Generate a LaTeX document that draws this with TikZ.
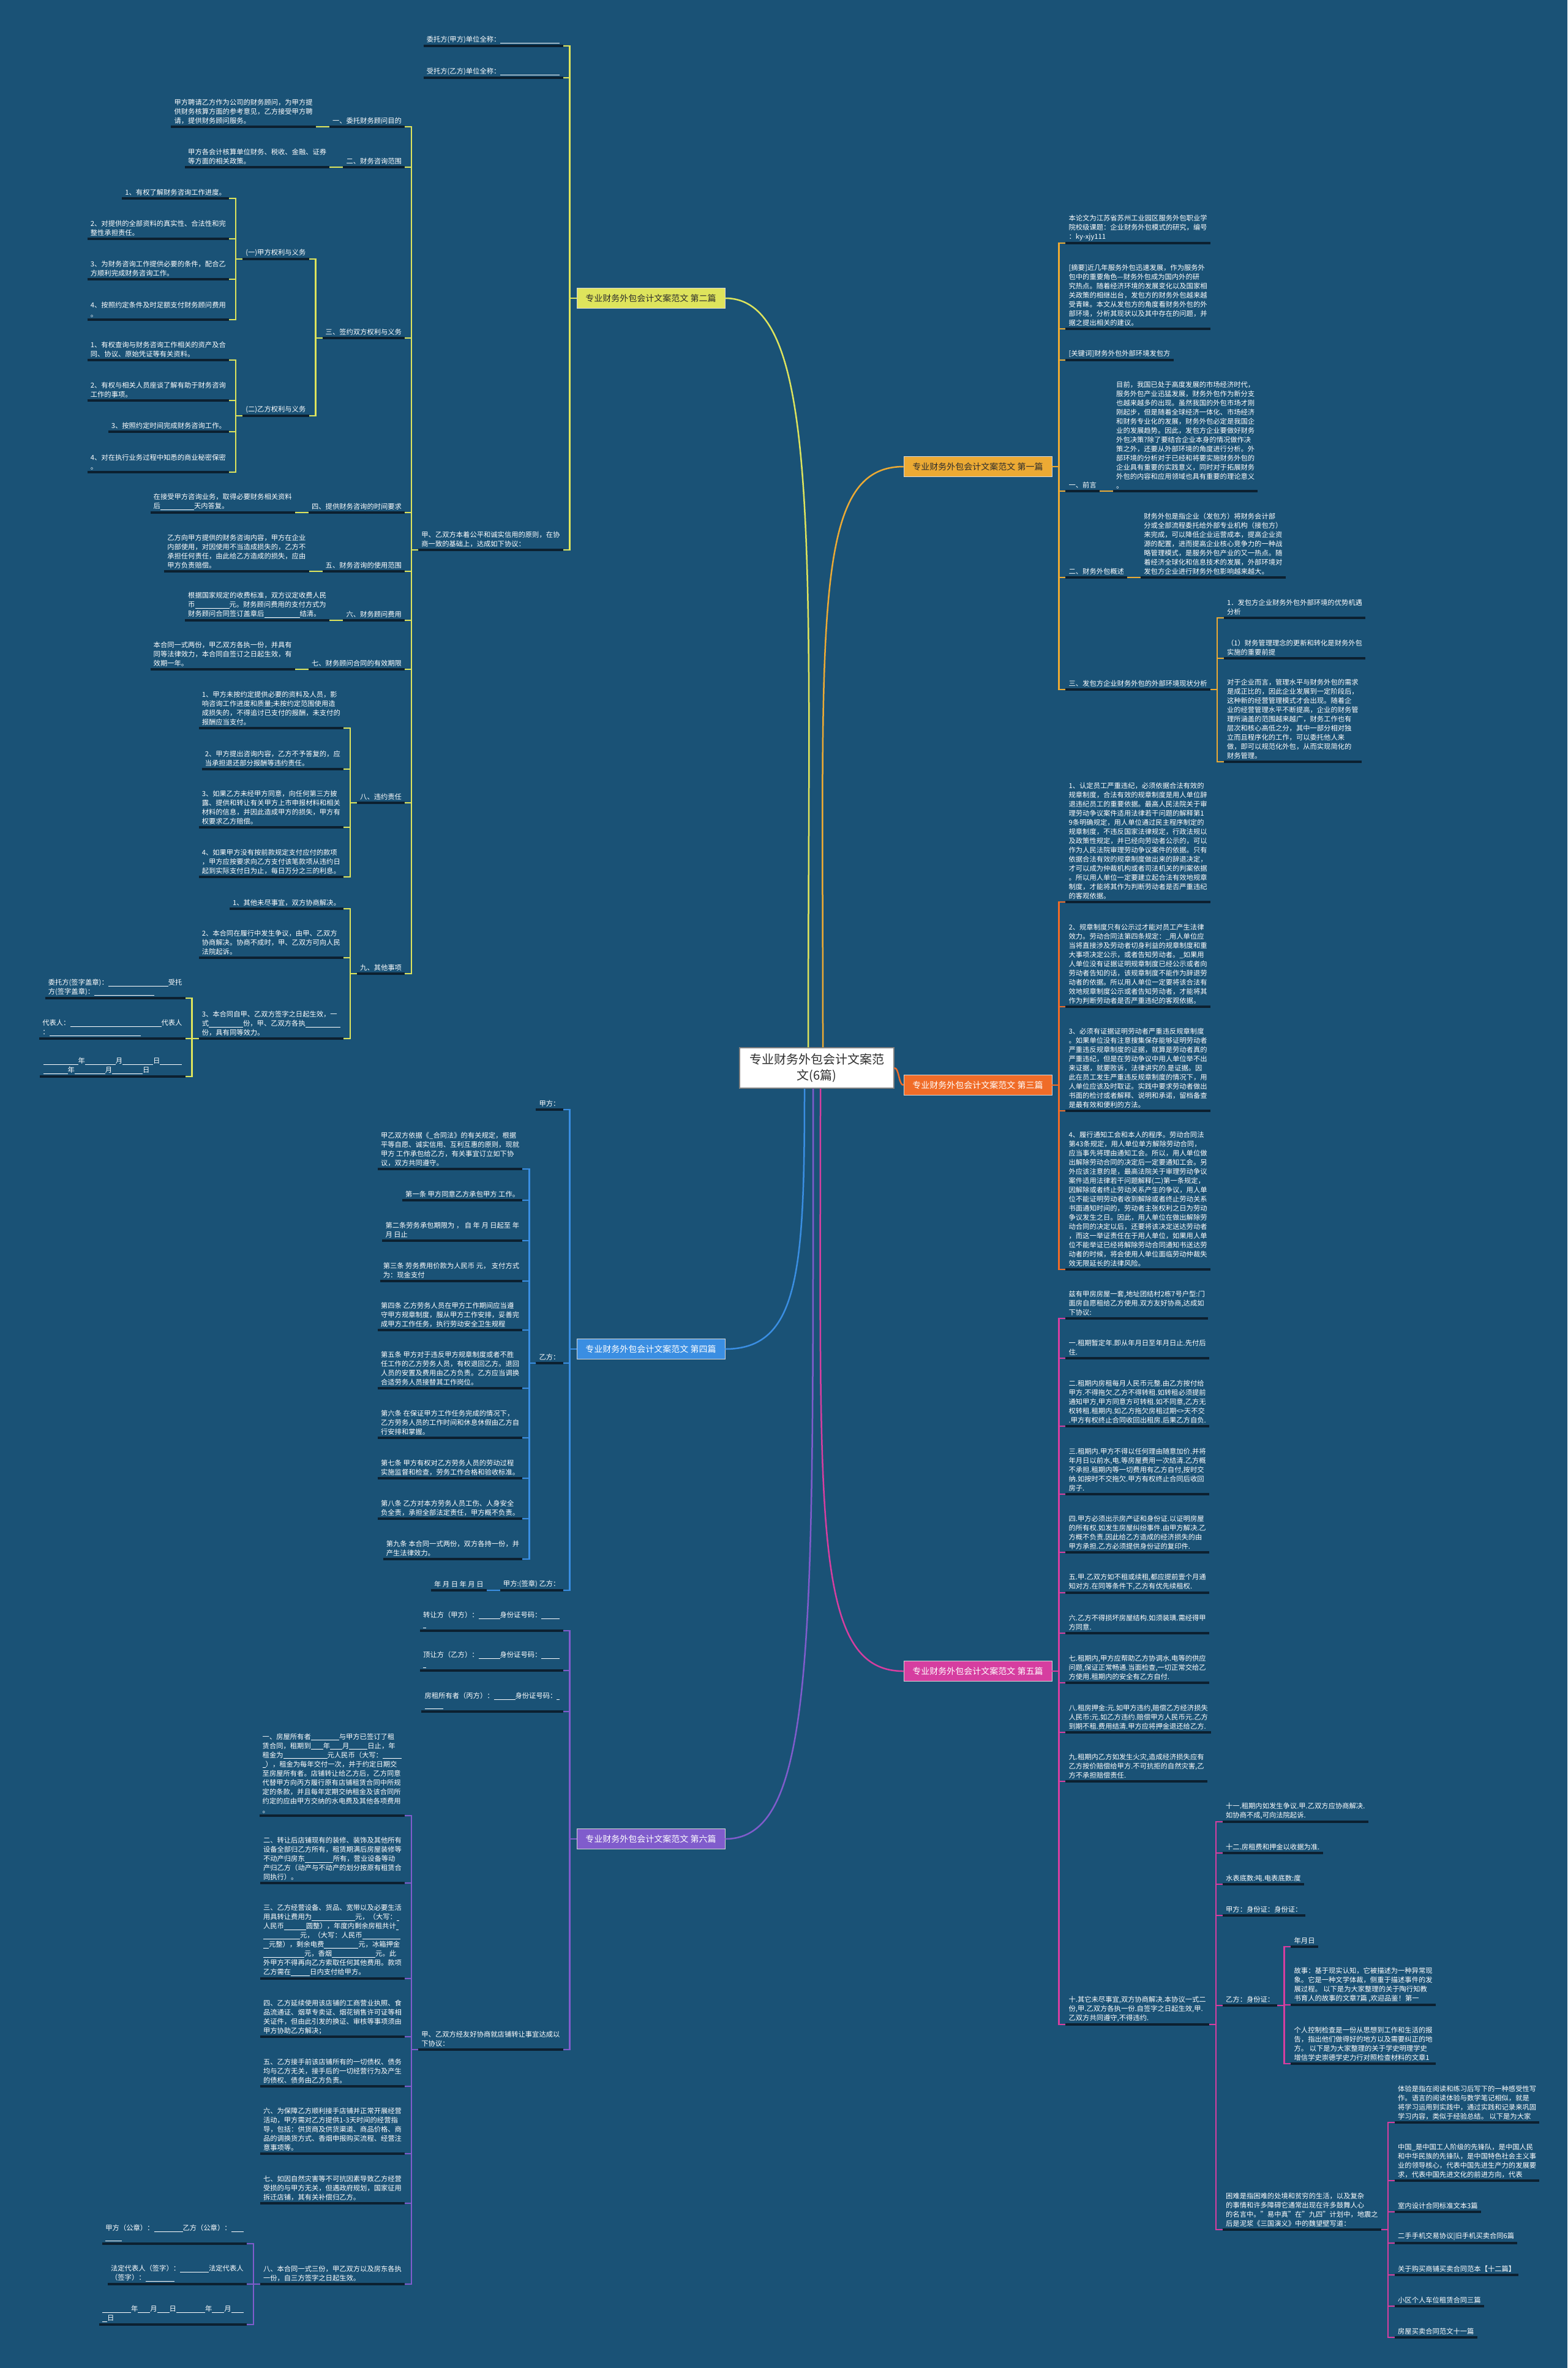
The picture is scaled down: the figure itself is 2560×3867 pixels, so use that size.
\documentclass[tikz,border=0pt]{standalone}
\usepackage{fontspec}
\setmainfont{Noto Sans CJK SC}
\newcommand{\ublank}[1]{\rule[-2pt]{#1pt}{0.7pt}}
\definecolor{bgblue}{RGB}{26,82,118}
\definecolor{ulc}{RGB}{12,32,48}
\definecolor{ink}{RGB}{45,45,45}
\definecolor{cyel}{RGB}{222,228,92}
\definecolor{corg}{RGB}{236,170,52}
\definecolor{cred}{RGB}{240,108,40}
\definecolor{cblu}{RGB}{58,142,226}
\definecolor{cmag}{RGB}{214,62,160}
\definecolor{cpur}{RGB}{128,92,204}

\begin{document}
\begin{tikzpicture}[x=1pt, y=-1pt,
  leaf/.style={text=white, align=left, inner xsep=5pt, inner ysep=4pt, font=\fontsize{11.3}{15}\selectfont,
    append after command={(\tikzlastnode.south west) edge[uline] (\tikzlastnode.south east)}},
  leafL/.style={leaf, anchor=south east},
  leafR/.style={leaf, anchor=south west},
  uline/.style={draw=ulc, line width=4pt},
  topic/.style={draw=white!85!black, line width=0.8pt, minimum width=242pt, minimum height=33pt, inner sep=2pt, font=\fontsize{14}{16}\selectfont},
  central/.style={draw=gray, line width=1.5pt, fill=white, text=ink, align=center, minimum width=252pt, minimum height=66pt, font=\fontsize{20}{26}\selectfont},
  ylink/.style={draw=cyel, line width=2.5pt},
  olink/.style={draw=corg, line width=2.5pt},
  rlink/.style={draw=cred, line width=2.5pt},
  blink/.style={draw=cblu, line width=2.5pt},
  mlink/.style={draw=cmag, line width=2.5pt},
  plink/.style={draw=cpur, line width=2.5pt}]

\path[use as bounding box, fill=bgblue] (0,0) rectangle (2560,3867);

% centre and the six topics
\node[central] (root) at (1334,1744) {专业财务外包会计文案范\\文(6篇)};
\node[topic, fill=cyel, text=ink] (b2) at (1063,487) {专业财务外包会计文案范文 第二篇};
\node[topic, fill=corg, text=ink] (b1) at (1597,762) {专业财务外包会计文案范文 第一篇};
\node[topic, fill=cred, text=white] (b3) at (1597,1772) {专业财务外包会计文案范文 第三篇};
\node[topic, fill=cblu, text=white] (b4) at (1063,2203) {专业财务外包会计文案范文 第四篇};
\node[topic, fill=cmag, text=white] (b5) at (1597,2729) {专业财务外包会计文案范文 第五篇};
\node[topic, fill=cpur, text=white] (b6) at (1063,3003) {专业财务外包会计文案范文 第六篇};

\draw[ylink] ([xshift=-14pt]root.north) .. controls +(0,-800) and +(160,0) .. (b2.east);
\draw[olink] ([xshift=10pt]root.north) .. controls +(0,-700) and +(-150,0) .. (b1.west);
\draw[rlink] (root.east) .. controls +(8,0) and +(-8,0) .. (b3.west);
\draw[blink] ([xshift=-20pt]root.south) .. controls +(0,300) and +(120,0) .. (b4.east);
\draw[mlink] ([xshift=6pt]root.south) .. controls +(0,700) and +(-150,0) .. (b5.west);
\draw[plink] ([xshift=-6pt]root.south) .. controls +(0,900) and +(150,0) .. (b6.east);

% ---- 第二篇
\node[leafL] (client) at ([xshift=-22pt]b2.west |- 0,75) {委托方(甲方)单位全称：\ublank{97}};
\node[leafL] (agent) at ([xshift=-22pt]b2.west |- 0,127) {受托方(乙方)单位全称：\ublank{97}};
\node[leafL] (agree) at ([xshift=-22pt]b2.west |- 0,898) {甲、乙双方本着公平和诚实信用的原则，在协\\商一致的基础上，达成如下协议：};
\foreach \ch in {client,agent,agree} \draw[ylink] (b2.west) -- ++(-11,0) |- (\ch.south east);

\node[leafL] (aim) at ([xshift=-22pt]agree.south west |- 0,207) {一、委托财务顾问目的};
\node[leafL] (scope) at ([xshift=-22pt]agree.south west |- 0,273) {二、财务咨询范围};
\node[leafL] (rights) at ([xshift=-22pt]agree.south west |- 0,552) {三、签约双方权利与义务};
\node[leafL] (timing) at ([xshift=-22pt]agree.south west |- 0,837) {四、提供财务咨询的时间要求};
\node[leafL] (usage) at ([xshift=-22pt]agree.south west |- 0,933) {五、财务咨询的使用范围};
\node[leafL] (fee) at ([xshift=-22pt]agree.south west |- 0,1013) {六、财务顾问费用};
\node[leafL] (term) at ([xshift=-22pt]agree.south west |- 0,1093) {七、财务顾问合同的有效期限};
\node[leafL] (breach) at ([xshift=-22pt]agree.south west |- 0,1311) {八、违约责任};
\node[leafL] (misc) at ([xshift=-22pt]agree.south west |- 0,1590) {九、其他事项};
\foreach \ch in {aim,scope,rights,timing,usage,fee,term,breach,misc} \draw[ylink] (agree.south west) -- ++(-11,0) |- (\ch.south east);

\node[leafL] (aimtxt) at ([xshift=-22pt]aim.south west |- 0,207) {甲方聘请乙方作为公司的财务顾问，为甲方提\\供财务核算方面的参考意见，乙方接受甲方聘\\请，提供财务顾问服务。};
\node[leafL] (scopetxt) at ([xshift=-22pt]scope.south west |- 0,273) {甲方各会计核算单位财务、税收、金融、证券\\等方面的相关政策。};
\node[leafL] (timingtxt) at ([xshift=-22pt]timing.south west |- 0,837) {在接受甲方咨询业务，取得必要财务相关资料\\后\ublank{55}天内答复。};
\node[leafL] (usagetxt) at ([xshift=-22pt]usage.south west |- 0,933) {乙方向甲方提供的财务咨询内容，甲方在企业\\内部使用，对因使用不当造成损失的，乙方不\\承担任何责任，由此给乙方造成的损失，应由\\甲方负责赔偿。};
\node[leafL] (feetxt) at ([xshift=-22pt]fee.south west |- 0,1013) {根据国家规定的收费标准，双方议定收费人民\\币\ublank{56}元。财务顾问费用的支付方式为\\财务顾问合同签订盖章后\ublank{58}结清。};
\node[leafL] (termtxt) at ([xshift=-22pt]term.south west |- 0,1093) {本合同一式两份，甲乙双方各执一份，并具有\\同等法律效力，本合同自签订之日起生效，有\\效期一年。};
\foreach \pa/\ch in {aim/aimtxt,scope/scopetxt,timing/timingtxt,usage/usagetxt,fee/feetxt,term/termtxt} \draw[ylink] (\pa.south west) -- (\ch.south east);

\node[leafL] (rightsA) at ([xshift=-22pt]rights.south west |- 0,423) {(一)甲方权利与义务};
\node[leafL] (rightsB) at ([xshift=-22pt]rights.south west |- 0,679) {(二)乙方权利与义务};
\foreach \ch in {rightsA,rightsB} \draw[ylink] (rights.south west) -- ++(-11,0) |- (\ch.south east);
\node[leafL] (ra1) at ([xshift=-22pt]rightsA.south west |- 0,324) {1、有权了解财务咨询工作进度。};
\node[leafL] (ra2) at ([xshift=-22pt]rightsA.south west |- 0,390) {2、对提供的全部资料的真实性、合法性和完\\整性承担责任。};
\node[leafL] (ra3) at ([xshift=-22pt]rightsA.south west |- 0,456) {3、为财务咨询工作提供必要的条件，配合乙\\方顺利完成财务咨询工作。};
\node[leafL] (ra4) at ([xshift=-22pt]rightsA.south west |- 0,522) {4、按照约定条件及时足额支付财务顾问费用\\。};
\foreach \ch in {ra1,ra2,ra3,ra4} \draw[ylink] (rightsA.south west) -- ++(-11,0) |- (\ch.south east);
\node[leafL] (rb1) at ([xshift=-22pt]rightsB.south west |- 0,588) {1、有权查询与财务咨询工作相关的资产及合\\同、协议、原始凭证等有关资料。};
\node[leafL] (rb2) at ([xshift=-22pt]rightsB.south west |- 0,654) {2、有权与相关人员座谈了解有助于财务咨询\\工作的事项。};
\node[leafL] (rb3) at ([xshift=-22pt]rightsB.south west |- 0,705) {3、按照约定时间完成财务咨询工作。};
\node[leafL] (rb4) at ([xshift=-22pt]rightsB.south west |- 0,771) {4、对在执行业务过程中知悉的商业秘密保密\\。};
\foreach \ch in {rb1,rb2,rb3,rb4} \draw[ylink] (rightsB.south west) -- ++(-11,0) |- (\ch.south east);

\node[leafL] (br1) at ([xshift=-22pt]breach.south west |- 0,1189) {1、甲方未按约定提供必要的资料及人员，影\\响咨询工作进度和质量;未按约定范围使用造\\成损失的，不得追讨已支付的报酬，未支付的\\报酬应当支付。};
\node[leafL] (br2) at ([xshift=-22pt]breach.south west |- 0,1256) {2、甲方提出咨询内容，乙方不予答复的，应\\当承担退还部分报酬等违约责任。};
\node[leafL] (br3) at ([xshift=-22pt]breach.south west |- 0,1351) {3、如果乙方未经甲方同意，向任何第三方披\\露、提供和转让有关甲方上市申报材料和相关\\材料的信息，并因此造成甲方的损失，甲方有\\权要求乙方赔偿。};
\node[leafL] (br4) at ([xshift=-22pt]breach.south west |- 0,1432) {4、如果甲方没有按前款规定支付应付的款项\\，甲方应按要求向乙方支付该笔款项从违约日\\起到实际支付日为止，每日万分之三的利息。};
\foreach \ch in {br1,br2,br3,br4} \draw[ylink] (breach.south west) -- ++(-11,0) |- (\ch.south east);

\node[leafL] (ms1) at ([xshift=-22pt]misc.south west |- 0,1484) {1、其他未尽事宜，双方协商解决。};
\node[leafL] (ms2) at ([xshift=-22pt]misc.south west |- 0,1564) {2、本合同在履行中发生争议，由甲、乙双方\\协商解决。协商不成时，甲、乙双方可向人民\\法院起诉。};
\node[leafL] (ms3) at ([xshift=-22pt]misc.south west |- 0,1696) {3、本合同自甲、乙双方签字之日起生效，一\\式\ublank{56}份，甲、乙双方各执\ublank{57}\\份，具有同等效力。};
\foreach \ch in {ms1,ms2,ms3} \draw[ylink] (misc.south west) -- ++(-11,0) |- (\ch.south east);
\node[leafL] (sg1) at ([xshift=-22pt]ms3.south west |- 0,1630) {委托方(签字盖章)：\ublank{98}受托\\方(签字盖章)：\ublank{98}};
\node[leafL] (sg2) at ([xshift=-22pt]ms3.south west |- 0,1696) {代表人：\ublank{149}代表人\\：\ublank{149}};
\node[leafL] (sg3) at ([xshift=-22pt]ms3.south west |- 0,1758) {\ublank{57}年\ublank{50}月\ublank{50}日\ublank{36}\\\ublank{40}年\ublank{50}月\ublank{50}日};
\foreach \ch in {sg1,sg2,sg3} \draw[ylink] (ms3.south west) -- ++(-11,0) |- (\ch.south east);

% ---- 第一篇
\node[leafR] (project) at ([xshift=22pt]b1.east |- 0,397) {本论文为江苏省苏州工业园区服务外包职业学\\院校级课题：企业财务外包模式的研究，编号\\：ky-xjy111};
\node[leafR] (abstract) at ([xshift=22pt]b1.east |- 0,537) {[摘要]近几年服务外包迅速发展，作为服务外\\包中的重要角色—财务外包成为国内外的研\\究热点。随着经济环境的发展变化以及国家相\\关政策的相继出台，发包方的财务外包越来越\\受青睐。本文从发包方的角度看财务外包的外\\部环境，分析其现状以及其中存在的问题，并\\据之提出相关的建议。};
\node[leafR] (keywords) at ([xshift=22pt]b1.east |- 0,588) {[关键词]财务外包外部环境发包方};
\node[leafR] (intro) at ([xshift=22pt]b1.east |- 0,802) {一、前言};
\node[leafR] (overview) at ([xshift=22pt]b1.east |- 0,943) {二、财务外包概述};
\node[leafR] (env) at ([xshift=22pt]b1.east |- 0,1126) {三、发包方企业财务外包的外部环境现状分析};
\foreach \ch in {project,abstract,keywords,intro,overview,env} \draw[olink] (b1.east) -- ++(11,0) |- (\ch.south west);

\node[leafR] (introtxt) at ([xshift=22pt]intro.south east |- 0,802) {目前，我国已处于高度发展的市场经济时代，\\服务外包产业迅猛发展，财务外包作为新分支\\也越来越多的出现。虽然我国的外包市场才刚\\刚起步，但是随着全球经济一体化、市场经济\\和财务专业化的发展，财务外包必定是我国企\\业的发展趋势。因此，发包方企业要做好财务\\外包决策?除了要结合企业本身的情况做作决\\策之外，还要从外部环境的角度进行分析。外\\部环境的分析对于已经和将要实施财务外包的\\企业具有重要的实践意义，同时对于拓展财务\\外包的内容和应用领域也具有重要的理论意义\\。};
\node[leafR] (overviewtxt) at ([xshift=22pt]overview.south east |- 0,943) {财务外包是指企业（发包方）将财务会计部\\分或全部流程委托给外部专业机构（接包方）\\来完成，可以降低企业运营成本，提高企业资\\源的配置，进而提高企业核心竞争力的一种战\\略管理模式，是服务外包产业的又一热点。随\\着经济全球化和信息技术的发展，外部环境对\\发包方企业进行财务外包影响越来越大。};
\foreach \pa/\ch in {intro/introtxt,overview/overviewtxt} \draw[olink] (\pa.south east) -- (\ch.south west);

\node[leafR] (env1) at ([xshift=22pt]env.south east |- 0,1009) {1．发包方企业财务外包外部环境的优势机遇\\分析};
\node[leafR] (env2) at ([xshift=22pt]env.south east |- 0,1075) {（1）财务管理理念的更新和转化是财务外包\\实施的重要前提};
\node[leafR] (env3) at ([xshift=22pt]env.south east |- 0,1244) {对于企业而言，管理水平与财务外包的需求\\是成正比的，因此企业发展到一定阶段后，\\这种新的经营管理模式才会出现。随着企\\业的经营管理水平不断提高，企业的财务管\\理所涵盖的范围越来越广，财务工作也有\\层次和核心高低之分，其中一部分相对独\\立而且程序化的工作，可以委托他人来\\做，即可以规范化外包，从而实现简化的\\财务管理。};
\foreach \ch in {env1,env2,env3} \draw[olink] (env.south east) -- ++(11,0) |- (\ch.south west);

% ---- 第三篇
\node[leafR] (law1) at ([xshift=22pt]b3.east |- 0,1473) {1、认定员工严重违纪，必须依据合法有效的\\规章制度，合法有效的规章制度是用人单位辞\\退违纪员工的重要依据。最高人民法院关于审\\理劳动争议案件适用法律若干问题的解释第1\\9条明确规定，用人单位通过民主程序制定的\\规章制度，不违反国家法律规定，行政法规以\\及政策性规定，并已经向劳动者公示的，可以\\作为人民法院审理劳动争议案件的依据。只有\\依据合法有效的规章制度做出来的辞退决定，\\才可以成为仲裁机构或者司法机关的判案依据\\。所以用人单位一定要建立起合法有效地规章\\制度，才能将其作为判断劳动者是否严重违纪\\的客观依据。};
\node[leafR] (law2) at ([xshift=22pt]b3.east |- 0,1644) {2、规章制度只有公示过才能对员工产生法律\\效力。劳动合同法第四条规定：\_用人单位应\\当将直接涉及劳动者切身利益的规章制度和重\\大事项决定公示，或者告知劳动者。\_如果用\\人单位没有证据证明规章制度已经公示或者向\\劳动者告知的话，该规章制度不能作为辞退劳\\动者的依据。所以用人单位一定要将该合法有\\效地规章制度公示或者告知劳动者，才能将其\\作为判断劳动者是否严重违纪的客观依据。};
\node[leafR] (law3) at ([xshift=22pt]b3.east |- 0,1814) {3、必须有证据证明劳动者严重违反规章制度\\。如果单位没有注意搜集保存能够证明劳动者\\严重违反规章制度的证据，就算是劳动者真的\\严重违纪，但是在劳动争议中用人单位举不出\\来证据，就要败诉，法律讲究的.是证据。因\\此在员工发生严重违反规章制度的情况下，用\\人单位应该及时取证。实践中要求劳动者做出\\书面的检讨或者解释、说明和承诺，留档备查\\是最有效和便利的方法。};
\node[leafR] (law4) at ([xshift=22pt]b3.east |- 0,2073) {4、履行通知工会和本人的程序。劳动合同法\\第43条规定，用人单位单方解除劳动合同，\\应当事先将理由通知工会。所以，用人单位做\\出解除劳动合同的决定后一定要通知工会。另\\外应该注意的是，最高法院关于审理劳动争议\\案件适用法律若干问题解释(二)第一条规定，\\因解除或者终止劳动关系产生的争议，用人单\\位不能证明劳动者收到解除或者终止劳动关系\\书面通知时间的，劳动者主张权利之日为劳动\\争议发生之日。因此，用人单位在做出解除劳\\动合同的决定以后，还要将该决定送达劳动者\\，而这一举证责任在于用人单位，如果用人单\\位不能举证已经将解除劳动合同通知书送达劳\\动者的时候，将会使用人单位面临劳动仲裁失\\效无限延长的法律风险。};
\foreach \ch in {law1,law2,law3,law4} \draw[rlink] (b3.east) -- ++(11,0) |- (\ch.south west);

% ---- 第四篇
\node[leafL] (partyA) at ([xshift=-22pt]b4.west |- 0,1812) {甲方：};
\node[leafL] (partyB) at ([xshift=-22pt]b4.west |- 0,2226) {乙方：};
\node[leafL] (signB) at ([xshift=-22pt]b4.west |- 0,2597) {甲方:(签章) 乙方：};
\foreach \ch in {partyA,partyB,signB} \draw[blink] (b4.west) -- ++(-11,0) |- (\ch.south east);
\node[leafL] (pb0) at ([xshift=-22pt]partyB.south west |- 0,1909) {甲乙双方依据《\_合同法》的有关规定，根据\\平等自愿、诚实信用、互利互惠的原则，现就\\甲方 工作承包给乙方，有关事宜订立如下协\\议，双方共同遵守。};
\node[leafL] (pb1) at ([xshift=-22pt]partyB.south west |- 0,1960) {第一条 甲方同意乙方承包甲方 工作。};
\node[leafL] (pb2) at ([xshift=-22pt]partyB.south west |- 0,2026) {第二条劳务承包期限为 ， 自 年 月 日起至 年\\月 日止};
\node[leafL] (pb3) at ([xshift=-22pt]partyB.south west |- 0,2092) {第三条 劳务费用价款为人民币 元， 支付方式\\为：现金支付};
\node[leafL] (pb4) at ([xshift=-22pt]partyB.south west |- 0,2172) {第四条 乙方劳务人员在甲方工作期间应当遵\\守甲方规章制度，服从甲方工作安排，妥善完\\成甲方工作任务，执行劳动安全卫生规程};
\node[leafL] (pb5) at ([xshift=-22pt]partyB.south west |- 0,2267) {第五条 甲方对于违反甲方规章制度或者不胜\\任工作的乙方劳务人员，有权退回乙方。退回\\人员的安置及费用由乙方负责。乙方应当调换\\合适劳务人员接替其工作岗位。};
\node[leafL] (pb6) at ([xshift=-22pt]partyB.south west |- 0,2348) {第六条 在保证甲方工作任务完成的情况下，\\乙方劳务人员的工作时间和休息休假由乙方自\\行安排和掌握。};
\node[leafL] (pb7) at ([xshift=-22pt]partyB.south west |- 0,2414) {第七条 甲方有权对乙方劳务人员的劳动过程\\实施监督和检查，劳务工作合格和验收标准。};
\node[leafL] (pb8) at ([xshift=-22pt]partyB.south west |- 0,2480) {第八条 乙方对本方劳务人员工伤、人身安全\\负全责，承担全部法定责任，甲方概不负责。};
\node[leafL] (pb9) at ([xshift=-22pt]partyB.south west |- 0,2546) {第九条 本合同一式两份，双方各持一份，并\\产生法律效力。};
\foreach \ch in {pb0,pb1,pb2,pb3,pb4,pb5,pb6,pb7,pb8,pb9} \draw[blink] (partyB.south west) -- ++(-11,0) |- (\ch.south east);
\node[leafL] (signdate) at ([xshift=-22pt]signB.south west |- 0,2597) {年 月 日 年 月 日};
\draw[blink] (signB.south west) -- (signdate.south east);

% ---- 第五篇
\node[leafR] (rent0) at ([xshift=22pt]b5.east |- 0,2153) {兹有甲房房屋一套,地址团结村2栋7号户型:门\\面房自愿租给乙方使用.双方友好协商,达成如\\下协议:};
\node[leafR] (rent1) at ([xshift=22pt]b5.east |- 0,2218) {一.租期暂定年.即从年月日至年月日止.先付后\\住.};
\node[leafR] (rent2) at ([xshift=22pt]b5.east |- 0,2329) {二.租期内房租每月人民币元整.由乙方按付给\\甲方.不得拖欠.乙方不得转租.如转租必须提前\\通知甲方,甲方同意方可转租.如不同意,乙方无\\权转租.租期内.如乙方拖欠房租过期<>天不交\\.甲方有权终止合同收回出租房.后果乙方自负.};
\node[leafR] (rent3) at ([xshift=22pt]b5.east |- 0,2440) {三.租期内.甲方不得以任何理由随意加价.并将\\年月日以前水,电.等房屋费用一次结清.乙方概\\不承担.租期内等一切费用有乙方自付,按时交\\纳.如按时不交拖欠.甲方有权终止合同后收回\\房子.};
\node[leafR] (rent4) at ([xshift=22pt]b5.east |- 0,2535) {四.甲方必须出示房产证和身份证.以证明房屋\\的所有权.如发生房屋纠纷事件.由甲方解决.乙\\方概不负责.因此给乙方造成的经济损失的由\\甲方承担.乙方必须提供身份证的复印件.};
\node[leafR] (rent5) at ([xshift=22pt]b5.east |- 0,2601) {五.甲.乙双方如不租或续租,都应提前壹个月通\\知对方.在同等条件下,乙方有优先续租权.};
\node[leafR] (rent6) at ([xshift=22pt]b5.east |- 0,2667) {六.乙方不得损坏房屋结构.如须装璜.需经得甲\\方同意.};
\node[leafR] (rent7) at ([xshift=22pt]b5.east |- 0,2748) {七.租期内,甲方应帮助乙方协调水.电等的供应\\问题,保证正常畅通.当面检查,一切正常交给乙\\方使用.租期内的安全有乙方自付.};
\node[leafR] (rent8) at ([xshift=22pt]b5.east |- 0,2829) {八.租房押金:元.如甲方违约,赔偿乙方经济损失\\人民币:元.如乙方违约.赔偿甲方人民币元.乙方\\到期不租.费用结清.甲方应将押金退还给乙方.};
\node[leafR] (rent9) at ([xshift=22pt]b5.east |- 0,2909) {九.租期内乙方如发生火灾,造成经济损失应有\\乙方按价赔偿给甲方.不可抗拒的自然灾害,乙\\方不承担赔偿责任.};
\node[leafR] (rent10) at ([xshift=22pt]b5.east |- 0,3306) {十.其它未尽事宜,双方协商解决.本协议一式二\\份,甲.乙双方各执一份.自签字之日起生效,甲.\\乙双方共同遵守,不得违约.};
\foreach \ch in {rent0,rent1,rent2,rent3,rent4,rent5,rent6,rent7,rent8,rent9,rent10} \draw[mlink] (b5.east) -- ++(11,0) |- (\ch.south west);

\node[leafR] (rent11) at ([xshift=22pt]rent10.south east |- 0,2975) {十一.租期内如发生争议.甲.乙双方应协商解决.\\如协商不成,可向法院起诉.};
\node[leafR] (rent12) at ([xshift=22pt]rent10.south east |- 0,3026) {十二.房租费和押金以收据为准.};
\node[leafR] (meter) at ([xshift=22pt]rent10.south east |- 0,3077) {水表底数:吨.电表底数:度};
\node[leafR] (idA) at ([xshift=22pt]rent10.south east |- 0,3128) {甲方：身份证：身份证：};
\node[leafR] (idB) at ([xshift=22pt]rent10.south east |- 0,3275) {乙方：身份证：};
\node[leafR] (hard) at ([xshift=22pt]rent10.south east |- 0,3641) {困难是指困难的处境和贫穷的生活，以及复杂\\的事情和许多障碍它通常出现在许多鼓舞人心\\的名言中。"易中真"在"九四"计划中，地震之\\后是泥浆《三国演义》中的魏望壁写道：};
\foreach \ch in {rent11,rent12,meter,idA,idB,hard} \draw[mlink] (rent10.south east) -- ++(11,0) |- (\ch.south west);

\node[leafR] (datey) at ([xshift=22pt]idB.south east |- 0,3179) {年月日};
\node[leafR] (story) at ([xshift=22pt]idB.south east |- 0,3274) {故事：基于现实认知，它被描述为一种异常现\\象。它是一种文学体裁，侧重于描述事件的发\\展过程。 以下是为大家整理的关于陶行知教\\书育人的故事的文章7篇 ,欢迎品鉴！第一};
\node[leafR] (check) at ([xshift=22pt]idB.south east |- 0,3370) {个人控制检查是一份从思想到工作和生活的报\\告，指出他们做得好的地方以及需要纠正的地\\方。 以下是为大家整理的关于学史明理学史\\增信学史崇德学史力行对照检查材料的文章1};
\foreach \ch in {datey,story,check} \draw[mlink] (idB.south east) -- ++(11,0) |- (\ch.south west);

\node[leafR] (more1) at ([xshift=22pt]hard.south east |- 0,3466) {体验是指在阅读和练习后写下的一种感受性写\\作。语言的阅读体验与数学笔记相似，就是\\将学习运用到实践中，通过实践和记录来巩固\\学习内容，类似于经验总结。 以下是为大家};
\node[leafR] (more2) at ([xshift=22pt]hard.south east |- 0,3561) {中国\_是中国工人阶级的先锋队，是中国人民\\和中华民族的先锋队，是中国特色社会主义事\\业的领导核心，代表中国先进生产力的发展要\\求，代表中国先进文化的前进方向，代表};
\node[leafR] (more3) at ([xshift=22pt]hard.south east |- 0,3612) {室内设计合同标准文本3篇};
\node[leafR] (more4) at ([xshift=22pt]hard.south east |- 0,3663) {二手手机交易协议|旧手机买卖合同6篇};
\node[leafR] (more5) at ([xshift=22pt]hard.south east |- 0,3715) {关于购买商铺买卖合同范本【十二篇】};
\node[leafR] (more6) at ([xshift=22pt]hard.south east |- 0,3766) {小区个人车位租赁合同三篇};
\node[leafR] (more7) at ([xshift=22pt]hard.south east |- 0,3817) {房屋买卖合同范文十一篇};
\foreach \ch in {more1,more2,more3,more4,more5,more6,more7} \draw[mlink] (hard.south east) -- ++(11,0) |- (\ch.south west);

% ---- 第六篇
\node[leafL] (transfer) at ([xshift=-22pt]b6.west |- 0,2663) {转让方（甲方）：\ublank{35}身份证号码：\ublank{30}\\\ublank{5}};
\node[leafL] (assignee) at ([xshift=-22pt]b6.west |- 0,2728) {顶让方（乙方）：\ublank{35}身份证号码：\ublank{30}\\\ublank{5}};
\node[leafL] (owner) at ([xshift=-22pt]b6.west |- 0,2795) {房租所有者（丙方）：\ublank{35}身份证号码：\ublank{5}\\\ublank{30}};
\node[leafL] (shop) at ([xshift=-22pt]b6.west |- 0,3347) {甲、乙双方经友好协商就店铺转让事宜达成以\\下协议：};
\foreach \ch in {transfer,assignee,owner,shop} \draw[plink] (b6.west) -- ++(-11,0) |- (\ch.south east);

\node[leafL] (sh1) at ([xshift=-22pt]shop.south west |- 0,2965) {一、房屋所有者\ublank{46}与甲方已签订了租\\赁合同，租期到\ublank{20}年\ublank{20}月\ublank{30}日止，年\\租金为\ublank{72}元人民币（大写：\ublank{31}\\\ublank{5}），租金为每年交付一次，并于约定日期交\\至房屋所有者。店铺转让给乙方后，乙方同意\\代替甲方向丙方履行原有店铺租赁合同中所规\\定的条款，并且每年定期交纳租金及该合同所\\约定的应由甲方交纳的水电费及其他各项费用\\。};
\node[leafL] (sh2) at ([xshift=-22pt]shop.south west |- 0,3075) {二、转让后店铺现有的装修、装饰及其他所有\\设备全部归乙方所有，租赁期满后房屋装修等\\不动产归房东\ublank{46}所有，营业设备等动\\产归乙方（动产与不动产的划分按原有租赁合\\同执行）。};
\node[leafL] (sh3) at ([xshift=-22pt]shop.south west |- 0,3231) {三、乙方经营设备、货品、宽带以及必要生活\\用具转让费用为\ublank{71}元，（大写：\ublank{4}\\人民币\ublank{36}圆整），年度内剩余房租共计\ublank{4}\\\ublank{60}元，（大写：人民币\ublank{62}\\\ublank{9}元整），剩余电费\ublank{56}元，冰箱押金\\\ublank{67}元，香烟\ublank{71}元。此\\外甲方不得再向乙方索取任何其他费用。款项\\乙方需在\ublank{31}日内支付给甲方。};
\node[leafL] (sh4) at ([xshift=-22pt]shop.south west |- 0,3326) {四、乙方延续使用该店铺的工商营业执照、食\\品流通证、烟草专卖证、烟花销售许可证等相\\关证件，但由此引发的换证、审核等事项须由\\甲方协助乙方解决；};
\node[leafL] (sh5) at ([xshift=-22pt]shop.south west |- 0,3407) {五、乙方接手前该店铺所有的一切债权、债务\\均与乙方无关，接手后的一切经营行为及产生\\的债权、债务由乙方负责。};
\node[leafL] (sh6) at ([xshift=-22pt]shop.south west |- 0,3517) {六、为保障乙方顺利接手店铺并正常开展经营\\活动，甲方需对乙方提供1-3天时间的经营指\\导，包括：供货商及供货渠道、商品价格、商\\品的调换货方式、香烟申报购买流程、经营注\\意事项等。};
\node[leafL] (sh7) at ([xshift=-22pt]shop.south west |- 0,3598) {七、如因自然灾害等不可抗因素导致乙方经营\\受损的与甲方无关，但遇政府规划，国家征用\\拆迁店铺，其有关补偿归乙方。};
\node[leafL] (sh8) at ([xshift=-22pt]shop.south west |- 0,3730) {八、本合同一式三份，甲乙双方以及房东各执\\一份，自三方签字之日起生效。};
\foreach \ch in {sh1,sh2,sh3,sh4,sh5,sh6,sh7,sh8} \draw[plink] (shop.south west) -- ++(-11,0) |- (\ch.south east);

\node[leafL] (seal) at ([xshift=-22pt]sh8.south west |- 0,3664) {甲方（公章）：\ublank{47}乙方（公章）：\ublank{20}\\\ublank{27}};
\node[leafL] (legal) at ([xshift=-22pt]sh8.south west |- 0,3730) {法定代表人（签字）：\ublank{47}法定代表人\\（签字）：\ublank{47}};
\node[leafL] (dates) at ([xshift=-22pt]sh8.south west |- 0,3796) {\ublank{47}年\ublank{20}月\ublank{20}日\ublank{47}年\ublank{20}月\ublank{20}\\\ublank{8}日};
\foreach \ch in {seal,legal,dates} \draw[plink] (sh8.south west) -- ++(-11,0) |- (\ch.south east);
\end{tikzpicture}
\end{document}
